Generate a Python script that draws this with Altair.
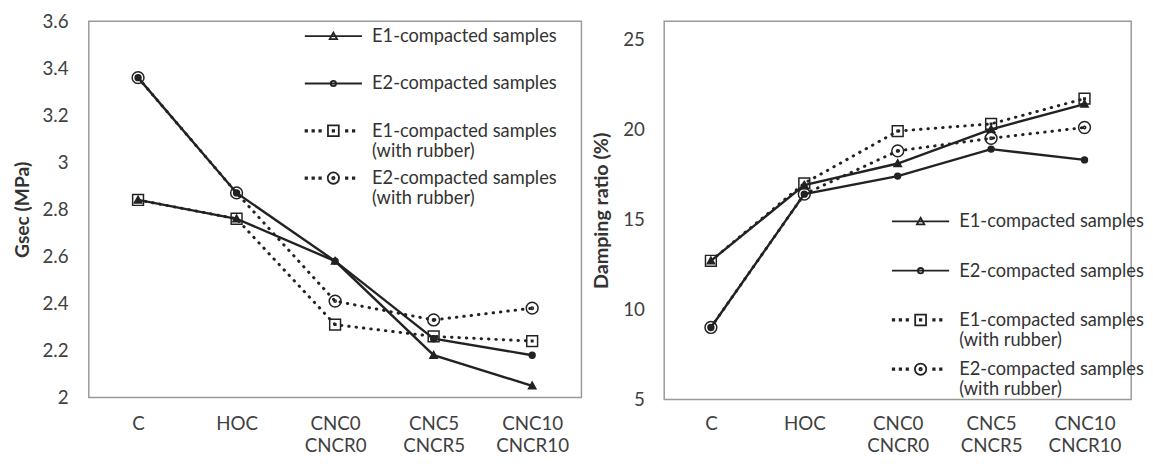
import altair as alt
import pandas as pd

# ---------------- data ----------------
categories = ["C", "HOC", "CNC0\nCNCR0", "CNC5\nCNCR5", "CNC10\nCNCR10"]
series = [
    "E1-compacted samples",
    "E2-compacted samples",
    "E1-compacted samples\n(with rubber)",
    "E2-compacted samples\n(with rubber)",
]

gsec_e1 = [2.84, 2.76, 2.58, 2.18, 2.05]
gsec_e2 = [3.36, 2.87, 2.58, 2.25, 2.18]
gsec_e1_rubber = [2.84, 2.76, 2.31, 2.26, 2.24]
gsec_e2_rubber = [3.36, 2.87, 2.41, 2.33, 2.38]

damp_e1 = [12.7, 16.9, 18.1, 20.0, 21.4]
damp_e2 = [9.0, 16.4, 17.4, 18.9, 18.3]
damp_e1_rubber = [12.7, 17.0, 19.9, 20.3, 21.7]
damp_e2_rubber = [9.0, 16.4, 18.8, 19.5, 20.1]

gsec_ticks = [2.0, 2.2, 2.4, 2.6, 2.8, 3.0, 3.2, 3.4, 3.6]
damp_ticks = [5, 10, 15, 20, 25]

# ---------------- styling ----------------
K = "#222222"
FONT = "Lato"
solid_series = series[:2]
rubber_series = series[2:]


def dots(xs, y):
    return "".join(f"M{x-0.15:.2f},{y-0.15:.2f}h0.3v0.3h-0.3Z" for x in xs)


def circle(cx, cy, r):
    return (f"M{cx+r},{cy}A{r},{r},0,1,1,{cx-r},{cy}"
            f"A{r},{r},0,1,1,{cx+r},{cy}Z")


def square(cx, cy, h):
    return f"M{cx-h},{cy-h}H{cx+h}V{cy+h}H{cx-h}Z"


tri = "M-0.75,0.6L0,-0.75L0.75,0.6Z"
marker_paths = [
    tri,
    circle(0, 0, 0.6),
    square(0, 0, 1.1) + square(0, 0, 0.15),
    circle(0, 0, 1.2) + circle(0, 0, 0.25),
]
LX = [-5.5, -4.1, -2.7, 2.7, 4.1]
legend_paths = [
    "M-5.8,0H5.8" + tri,
    "M-5.8,0H5.8" + circle(0, 0, 0.55),
    dots(LX, 0) + square(0, 0, 1.1) + square(0, 0, 0.15),
    dots(LX, 0) + circle(0, 0, 1.15) + circle(0, 0, 0.25),
]


def make_df(values):
    rows = []
    for s, vals in zip(series, values):
        for i, (c, v) in enumerate(zip(categories, vals)):
            rows.append({"category": c, "series": s, "value": v, "idx": i})
    return pd.DataFrame(rows)


def panel(df, yticks, ydomain, ytitle, title_size, lab_fmt, width, height,
          lab_pad_y, title_pad, lab_pad_x, lx, ly, row_pad):
    yaxis_kwargs = dict(values=yticks, title=ytitle, titleFont=FONT,
                        titleFontSize=title_size, titleFontWeight="bold",
                        titleColor="#333333", titlePadding=title_pad,
                        labelPadding=lab_pad_y)
    if lab_fmt:
        yaxis_kwargs["labelExpr"] = lab_fmt
    base = alt.Chart(df).encode(
        x=alt.X("category:N",
                scale=alt.Scale(type="point", padding=0.5, domain=categories),
                axis=alt.Axis(title=None, labelAngle=0, labelPadding=lab_pad_x,
                              labelExpr="split(datum.label, '\\n')",
                              labelLineHeight=23, labelBaseline="top")),
        y=alt.Y("value:Q", scale=alt.Scale(domain=ydomain, nice=False, zero=False),
                axis=alt.Axis(**yaxis_kwargs)),
        detail="series:N",
        order="idx:Q",
    )
    is_rubber = alt.FieldOneOfPredicate(field="series", oneOf=rubber_series)
    is_solid = alt.FieldOneOfPredicate(field="series", oneOf=solid_series)

    dotted = base.transform_filter(is_rubber).mark_line(
        color=K, strokeWidth=3, strokeDash=[0.5, 7], strokeCap="round")
    solid = base.transform_filter(is_solid).mark_line(color=K, strokeWidth=2.4)

    shape_enc = alt.Shape("series:N",
                          scale=alt.Scale(domain=series, range=marker_paths),
                          legend=None)
    fill_enc = alt.Fill("series:N",
                        scale=alt.Scale(domain=series,
                                        range=[K, K, "transparent", "transparent"]),
                        legend=None)
    pts_r = base.transform_filter(is_rubber).mark_point(
        filled=True, stroke=K, strokeWidth=1.5, size=100, opacity=1
    ).encode(shape=shape_enc, fill=fill_enc)
    pts_s = base.transform_filter(is_solid).mark_point(
        filled=True, stroke=K, strokeWidth=1.5, size=100, opacity=1
    ).encode(shape=shape_enc, fill=fill_enc)

    leg = base.mark_point(opacity=0, size=100).encode(
        shape=alt.Shape(
            "series:N",
            scale=alt.Scale(domain=series, range=legend_paths),
            legend=alt.Legend(
                title=None, orient="none", legendX=lx, legendY=ly,
                direction="vertical", symbolSize=100, symbolStrokeWidth=1.8,
                symbolStrokeColor=K, symbolFillColor="transparent",
                symbolOpacity=1, labelFont=FONT, labelFontSize=18.5,
                labelColor="#333333", labelLimit=400,
                labelExpr="split(datum.label, '\\n')", gridAlign="all",
                rowPadding=row_pad, labelOffset=30, padding=0,
            ),
        )
    )
    return alt.layer(dotted, solid, pts_r, pts_s, leg).resolve_scale(
        shape="independent").properties(width=width, height=height)


left = panel(make_df([gsec_e1, gsec_e2, gsec_e1_rubber, gsec_e2_rubber]),
             gsec_ticks, [2.0, 3.6], "Gsec (MPa)", 19.5,
             "format(datum.value, '.1~f')", 500, 382, 21, 10, 17,
             239, 6, 7)
right = panel(make_df([damp_e1, damp_e2, damp_e1_rubber, damp_e2_rubber]),
              damp_ticks, [5, 26], "Damping ratio (%)", 20,
              None, 474, 384, 20, 11, 15,
              251, 194, 9)

chart = alt.hconcat(left, right, spacing=84, bounds="flush").properties(
    padding={"left": 3, "right": 0, "top": 0, "bottom": 0}
).configure_view(
    stroke="#9a9a9a", strokeWidth=1.5
).configure_axis(
    domain=False, ticks=False, grid=False, labelFont=FONT, labelFontSize=19,
    labelColor="#404040"
)

chart.save("out.html", embed_options={"renderer": "svg", "actions": False})
